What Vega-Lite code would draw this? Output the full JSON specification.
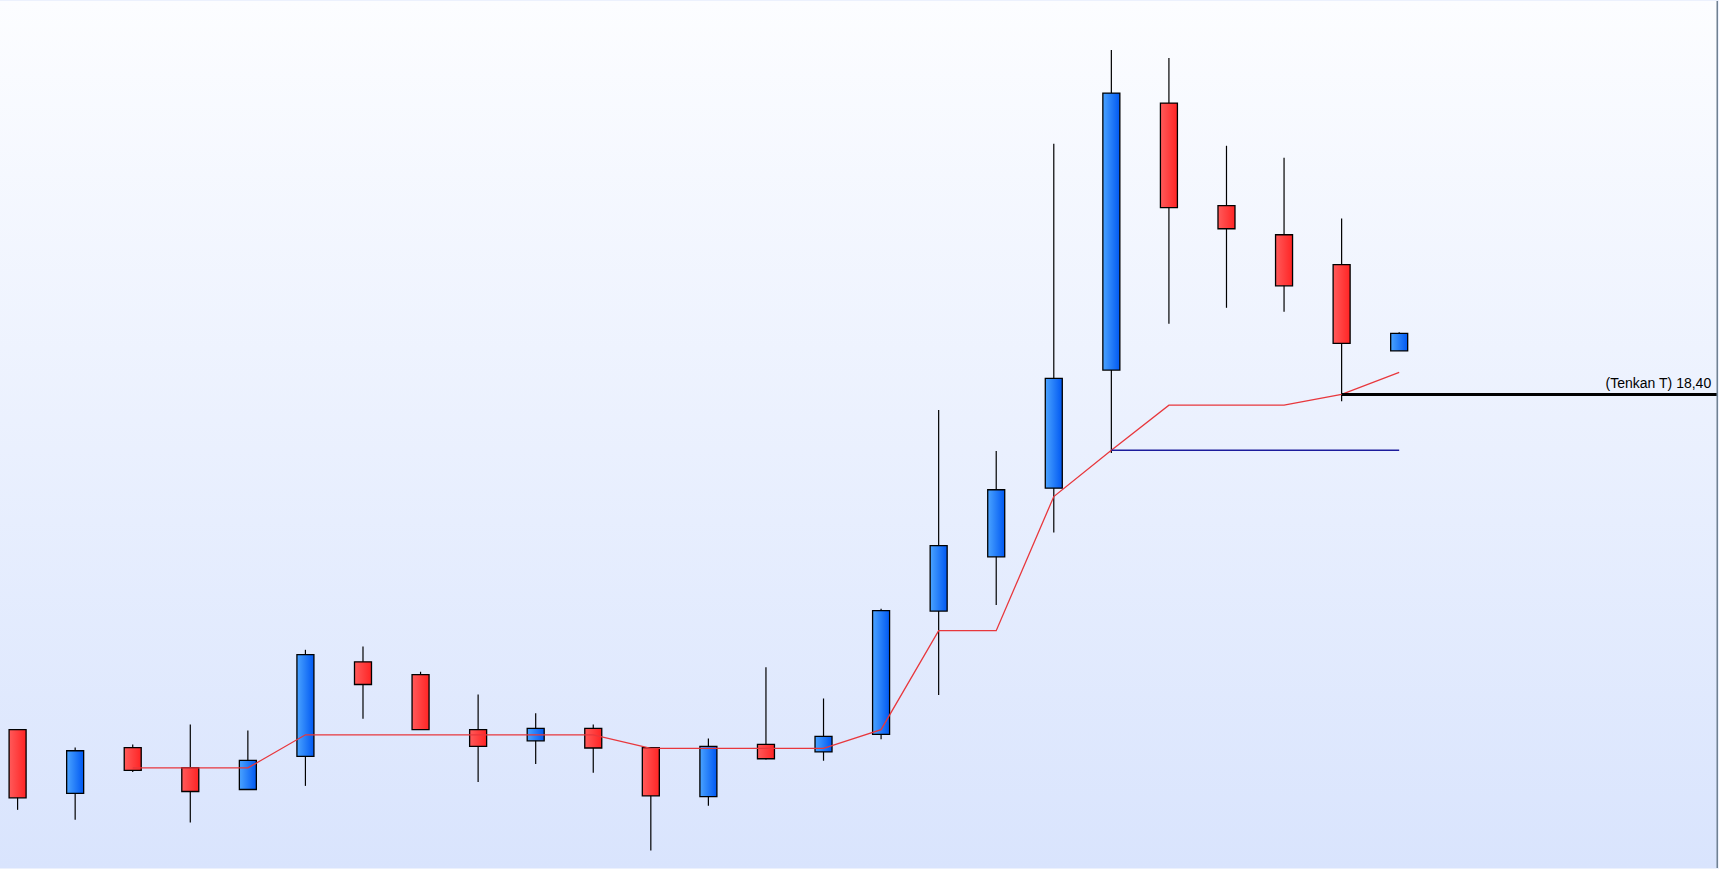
{
  "$schema": "https://vega.github.io/schema/vega-lite/v6.json",
  "width": 1719,
  "height": 869,
  "padding": 0,
  "autosize": {"type": "fit", "contains": "padding"},
  "background": "#ecf1fd",
  "config": {
    "scale": {"continuousPadding": 0},
    "view": {
      "stroke": null,
      "fill": {"gradient": "linear", "x1": 0, "y1": 0, "x2": 0, "y2": 1,
        "stops": [{"offset": 0, "color": "#fcfdff"}, {"offset": 1, "color": "#d9e4fd"}]}
    }
  },
  "datasets": {
    "candles": [
      {"t": 0, "open": 10.00, "high": 10.00, "low": 7.99, "close": 8.29},
      {"t": 1, "open": 8.40, "high": 9.55, "low": 7.74, "close": 9.47},
      {"t": 2, "open": 9.55, "high": 9.63, "low": 8.94, "close": 8.98},
      {"t": 3, "open": 9.05, "high": 10.13, "low": 7.67, "close": 8.45},
      {"t": 4, "open": 8.50, "high": 9.98, "low": 8.50, "close": 9.23},
      {"t": 5, "open": 9.33, "high": 12.00, "low": 8.59, "close": 11.88},
      {"t": 6, "open": 11.70, "high": 12.08, "low": 10.27, "close": 11.13},
      {"t": 7, "open": 11.38, "high": 11.45, "low": 10.00, "close": 10.00},
      {"t": 8, "open": 10.00, "high": 10.88, "low": 8.69, "close": 9.58},
      {"t": 9, "open": 9.72, "high": 10.41, "low": 9.14, "close": 10.03},
      {"t": 10, "open": 10.03, "high": 10.13, "low": 8.92, "close": 9.54},
      {"t": 11, "open": 9.55, "high": 9.55, "low": 6.97, "close": 8.34},
      {"t": 12, "open": 8.32, "high": 9.78, "low": 8.09, "close": 9.58},
      {"t": 13, "open": 9.63, "high": 11.56, "low": 9.25, "close": 9.27},
      {"t": 14, "open": 9.44, "high": 10.78, "low": 9.22, "close": 9.83},
      {"t": 15, "open": 9.88, "high": 13.03, "low": 9.76, "close": 12.98},
      {"t": 16, "open": 12.97, "high": 18.01, "low": 10.87, "close": 14.61},
      {"t": 17, "open": 14.33, "high": 16.98, "low": 13.12, "close": 16.01},
      {"t": 18, "open": 16.05, "high": 24.68, "low": 14.94, "close": 18.80},
      {"t": 19, "open": 19.01, "high": 27.03, "low": 16.93, "close": 25.95},
      {"t": 20, "open": 25.70, "high": 26.83, "low": 20.17, "close": 23.08},
      {"t": 21, "open": 23.13, "high": 24.63, "low": 20.57, "close": 22.55},
      {"t": 22, "open": 22.40, "high": 24.33, "low": 20.47, "close": 21.12},
      {"t": 23, "open": 21.65, "high": 22.81, "low": 18.23, "close": 19.68},
      {"t": 24, "open": 19.49, "high": 19.96, "low": 19.49, "close": 19.93}
    ],
    "tenkan": [
      {"t": 2, "v": 9.04}, {"t": 3, "v": 9.04}, {"t": 4, "v": 9.04},
      {"t": 5, "v": 9.87}, {"t": 6, "v": 9.87}, {"t": 7, "v": 9.87},
      {"t": 8, "v": 9.87}, {"t": 9, "v": 9.87}, {"t": 10, "v": 9.87},
      {"t": 11, "v": 9.53}, {"t": 12, "v": 9.53}, {"t": 13, "v": 9.53},
      {"t": 14, "v": 9.53}, {"t": 15, "v": 10.00}, {"t": 16, "v": 12.48},
      {"t": 17, "v": 12.48}, {"t": 18, "v": 15.84}, {"t": 19, "v": 17.00},
      {"t": 20, "v": 18.13}, {"t": 21, "v": 18.13}, {"t": 22, "v": 18.13},
      {"t": 23, "v": 18.40}, {"t": 24, "v": 18.95}
    ],
    "kijun": [
      {"t": 19, "v": 17.00}, {"t": 24, "v": 17.00}
    ],
    "marker": [
      {"t": 23, "t2": 29.52, "v": 18.40, "tl": 29.42, "label": "(Tenkan T) 18,40"}
    ]
  },
  "layer": [
    {
      "data": {"name": "candles"},
      "mark": {"type": "rule", "color": "#000000", "strokeWidth": 1.2},
      "encoding": {
        "x": {"field": "t", "type": "quantitative", "axis": null, "scale": {"domain": [-0.3056, 29.5382], "nice": false, "zero": false, "padding": 0}},
        "y": {"field": "low", "type": "quantitative", "axis": null, "scale": {"domain": [6.5325, 28.2575], "nice": false, "zero": false, "padding": 0}},
        "y2": {"field": "high"}
      }
    },
    {
      "data": {"name": "candles"},
      "transform": [{"filter": "datum.close >= datum.open"}],
      "mark": {"type": "bar", "size": 17, "stroke": "#000000", "strokeWidth": 1.3,
        "fill": {"gradient": "linear", "x1": 0, "y1": 0, "x2": 1, "y2": 0,
          "stops": [{"offset": 0, "color": "#4aa3ff"}, {"offset": 1, "color": "#0058f2"}]}},
      "encoding": {
        "x": {"field": "t", "type": "quantitative"},
        "y": {"field": "open", "type": "quantitative"},
        "y2": {"field": "close"}
      }
    },
    {
      "data": {"name": "candles"},
      "transform": [{"filter": "datum.close < datum.open"}],
      "mark": {"type": "bar", "size": 17, "stroke": "#000000", "strokeWidth": 1.3,
        "fill": {"gradient": "linear", "x1": 0, "y1": 0, "x2": 1, "y2": 0,
          "stops": [{"offset": 0, "color": "#ff5a5a"}, {"offset": 1, "color": "#ff2424"}]}},
      "encoding": {
        "x": {"field": "t", "type": "quantitative"},
        "y": {"field": "open", "type": "quantitative"},
        "y2": {"field": "close"}
      }
    },
    {
      "data": {"name": "tenkan"},
      "mark": {"type": "line", "color": "#e8373c", "strokeWidth": 1.3},
      "encoding": {
        "x": {"field": "t", "type": "quantitative"},
        "y": {"field": "v", "type": "quantitative"}
      }
    },
    {
      "data": {"name": "kijun"},
      "mark": {"type": "line", "color": "#1c1c9c", "strokeWidth": 1.4},
      "encoding": {
        "x": {"field": "t", "type": "quantitative"},
        "y": {"field": "v", "type": "quantitative"}
      }
    },
    {
      "data": {"name": "marker"},
      "mark": {"type": "rule", "color": "#000000", "strokeWidth": 3},
      "encoding": {
        "x": {"field": "t", "type": "quantitative"},
        "x2": {"field": "t2"},
        "y": {"field": "v", "type": "quantitative"}
      }
    },
    {
      "data": {"name": "marker"},
      "mark": {"type": "text", "align": "right", "baseline": "alphabetic", "dy": -6, "font": "Liberation Sans", "fontSize": 14, "color": "#000000"},
      "encoding": {
        "x": {"field": "tl", "type": "quantitative"},
        "y": {"field": "v", "type": "quantitative"},
        "text": {"field": "label"}
      }
    },
    {
      "data": {"values": [{"edge": 29.525}]},
      "mark": {"type": "rule", "color": "#6f8092", "strokeWidth": 1.5},
      "encoding": {
        "x": {"field": "edge", "type": "quantitative"}
      }
    }
  ]
}
